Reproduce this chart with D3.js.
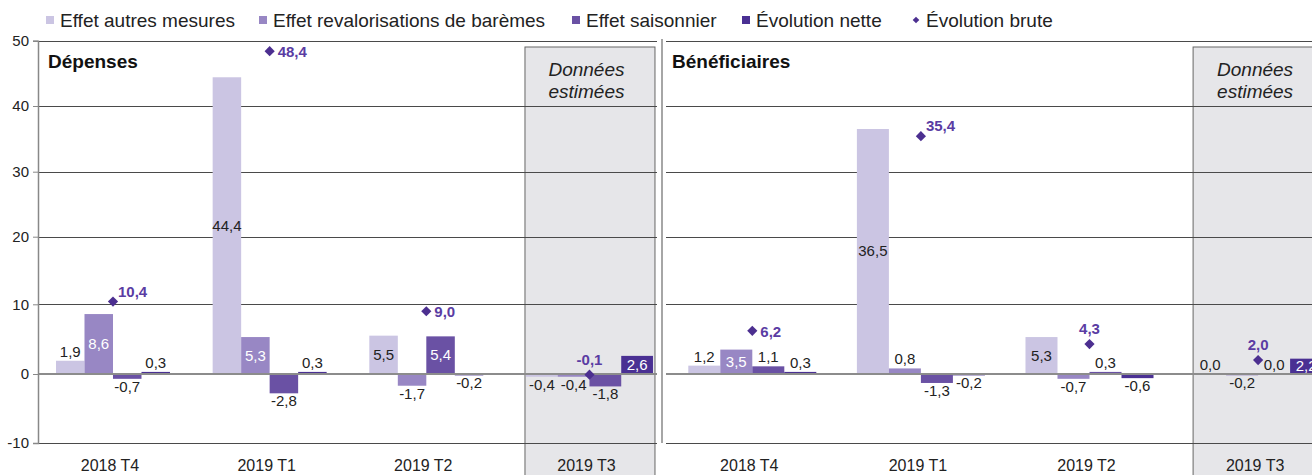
<!DOCTYPE html>
<html><head><meta charset="utf-8">
<script src="https://cdn.jsdelivr.net/npm/d3@7"></script>
<style>
html,body{margin:0;padding:0;background:#fff;}
svg{display:block;font-family:"Liberation Sans",Arial,sans-serif;}
</style></head>
<body><svg id="chart" width="1312" height="475"></svg>
<script>
// ---------- data ----------
const categories = ["2018 T4", "2019 T1", "2019 T2", "2019 T3"];
const estimatedCategory = "2019 T3";
const seriesNames = ["Effet autres mesures", "Effet revalorisations de barèmes", "Effet saisonnier", "Évolution nette"];
const bruteName = "Évolution brute";
const panelTitles = ["Dépenses", "Bénéficiaires"];
const estimatedText = ["Données", "estimées"];
const yTicks = [-10, 0, 10, 20, 30, 40, 50];

// Dépenses
const depAutres = [1.9, 44.4, 5.5, -0.4];
const depRevalo = [8.6, 5.3, -1.7, -0.4];
const depSaison = [-0.7, -2.8, 5.4, -1.8];
const depNette  = [0.3, 0.3, -0.2, 2.6];
const depBrute  = [10.4, 48.4, 9.0, -0.1];
// Bénéficiaires
const benAutres = [1.2, 36.5, 5.3, 0.0];
const benRevalo = [3.5, 0.8, -0.7, -0.2];
const benSaison = [1.1, -1.3, 0.3, 0.0];
const benNette  = [0.3, -0.2, -0.6, 2.2];
const benBrute  = [6.2, 35.4, 4.3, 2.0];

// ---------- styles / layout ----------
const colors = ["#cbc5e3", "#9887c4", "#6a51a4", "#4a3093"];
const diamondColor = "#4c2f90";
const diamondLabelColor = "#5a3ca3";
const textColor = "#222";

const svg = d3.select("#chart");
const fmt = v => d3.format(".1f")(v).replace(".", ",").replace("−", "-");

// polylinear y scale matching the reference gridline positions
const y = d3.scaleLinear().domain(yTicks).range([443, 374, 304.3, 236.7, 171.7, 106, 40.7]);

const panels = [
  { title: panelTitles[0], series: [depAutres, depRevalo, depSaison, depNette], brute: depBrute,
    range: [34.66, 661.3], padIn: 0.2724, plot: [38, 657], estWidth: 127,
    brutePlace: ["upright", "right", "right", "above"], axis: true, titleX: 48 },
  { title: panelTitles[1], series: [benAutres, benRevalo, benSaison, benNette], brute: benBrute,
    range: [668, 1342.4], padIn: 0.2407, plot: [666, 1330], estWidth: null,
    brutePlace: ["right", "upright", "above", "above"], axis: false, titleX: 672 }
];

panels.forEach(p => {
  const x0 = d3.scaleBand().domain(categories).range(p.range).paddingInner(p.padIn).paddingOuter(p.padIn / 2);
  const groupWidth = c => (c === estimatedCategory && p.estWidth) ? p.estWidth : x0.bandwidth();
  const xi = c => d3.scaleBand().domain(d3.range(seriesNames.length)).range([0, groupWidth(c)]);
  const g = svg.append("g");

  // estimated-data box
  const ex = x0(estimatedCategory), ew = groupWidth(estimatedCategory);
  g.append("rect").attr("x", ex - 1).attr("y", 47).attr("width", ew + 3).attr("height", 440)
    .attr("fill", "#e6e6e9").attr("stroke", "#666").attr("stroke-width", 1);
  estimatedText.forEach((t, k) => {
    g.append("text").attr("x", ex + ew / 2 - 3).attr("y", 76 + k * 22)
      .attr("text-anchor", "middle").attr("font-size", 19).attr("font-style", "italic")
      .attr("fill", textColor).text(t);
  });

  // gridlines
  g.selectAll(".grid").data(yTicks.filter(t => t !== 0)).join("line")
    .attr("x1", p.plot[0]).attr("x2", p.plot[1])
    .attr("y1", d => Math.round(y(d)) + 0.5).attr("y2", d => Math.round(y(d)) + 0.5)
    .attr("stroke", "#4a4a4a").attr("stroke-width", 1);

  // bars
  categories.forEach((c, i) => {
    const inner = xi(c);
    p.series.forEach((arr, s) => {
      const v = arr[i];
      g.append("rect")
        .attr("x", x0(c) + inner(s)).attr("width", inner.bandwidth())
        .attr("y", y(Math.max(0, v))).attr("height", Math.abs(y(v) - y(0)))
        .attr("fill", colors[s]);
    });
  });

  // zero line
  g.append("line").attr("x1", p.plot[0]).attr("x2", p.plot[1])
    .attr("y1", y(0)).attr("y2", y(0)).attr("stroke", "#8c8c8c").attr("stroke-width", 2);

  // bar labels
  categories.forEach((c, i) => {
    const inner = xi(c);
    p.series.forEach((arr, s) => {
      const v = arr[i];
      const cx = x0(c) + inner(s) + inner.bandwidth() / 2;
      const t = g.append("text").attr("x", cx).attr("text-anchor", "middle")
        .attr("font-size", 15).text(fmt(v));
      if (v >= 2) {
        t.attr("y", (y(v) + y(0)) / 2 + 5).attr("fill", s === 0 ? textColor : "#fff");
      } else if (v >= 0) {
        t.attr("y", y(v) - 4).attr("fill", textColor);
      } else {
        t.attr("y", y(v) + 13).attr("fill", textColor);
      }
    });
  });

  // diamonds (Évolution brute)
  categories.forEach((c, i) => {
    const v = p.brute[i];
    const cx = x0(c) + groupWidth(c) / 2, cy = y(v);
    g.append("path").attr("d", d3.symbol(d3.symbolSquare, 52)())
      .attr("transform", `translate(${cx},${cy}) rotate(45)`).attr("fill", diamondColor);
    const place = p.brutePlace[i];
    const t = g.append("text").attr("font-size", 15).attr("font-weight", "bold")
      .attr("fill", diamondLabelColor).text(fmt(v));
    if (place === "above") t.attr("x", cx).attr("y", cy - 10).attr("text-anchor", "middle");
    else if (place === "upright") t.attr("x", cx + 5).attr("y", cy - 5);
    else t.attr("x", cx + 8).attr("y", cy + 6);
  });

  // x labels
  categories.forEach(c => {
    g.append("text").attr("x", x0(c) + groupWidth(c) / 2 - 3).attr("y", 471)
      .attr("text-anchor", "middle").attr("font-size", 16).attr("fill", textColor).text(c);
  });

  // title
  g.append("text").attr("x", p.titleX).attr("y", 68).attr("font-size", 19).attr("font-weight", "bold")
    .attr("fill", "#111").text(p.title);

  // axis
  if (p.axis) {
    const ax = svg.append("g").attr("transform", "translate(38,0)")
      .call(d3.axisLeft(y).tickValues(yTicks).tickSize(5).tickPadding(4).tickFormat(d3.format("d")));
    ax.select(".domain").attr("stroke", "#888").attr("stroke-width", 1.5);
    ax.selectAll(".tick line").attr("stroke", "#888");
    ax.selectAll(".tick text").attr("font-size", 15).attr("fill", textColor)
      .attr("font-family", "Liberation Sans, Arial, sans-serif").text(d => d < 0 ? "-" + Math.abs(d) : d);
  } else {
    svg.append("line").attr("x1", 662).attr("x2", 662).attr("y1", 39).attr("y2", 443)
      .attr("stroke", "#888").attr("stroke-width", 1.5);
  }
});

// legend (marker x positions; text follows each marker)
const legendX = [46, 259, 572, 742, 913];
const legend = svg.append("g");
seriesNames.forEach((n, k) => {
  legend.append("rect").attr("x", legendX[k]).attr("y", 16).attr("width", 8).attr("height", 8).attr("fill", colors[k]);
  legend.append("text").attr("x", legendX[k] + 14).attr("y", 27).attr("font-size", 19).attr("fill", textColor).text(n);
});
legend.append("path").attr("d", d3.symbol(d3.symbolSquare, 22)())
  .attr("transform", `translate(${legendX[4] + 3},20) rotate(45)`).attr("fill", diamondColor);
legend.append("text").attr("x", legendX[4] + 13).attr("y", 27).attr("font-size", 19).attr("fill", textColor).text(bruteName);
</script></body></html>
